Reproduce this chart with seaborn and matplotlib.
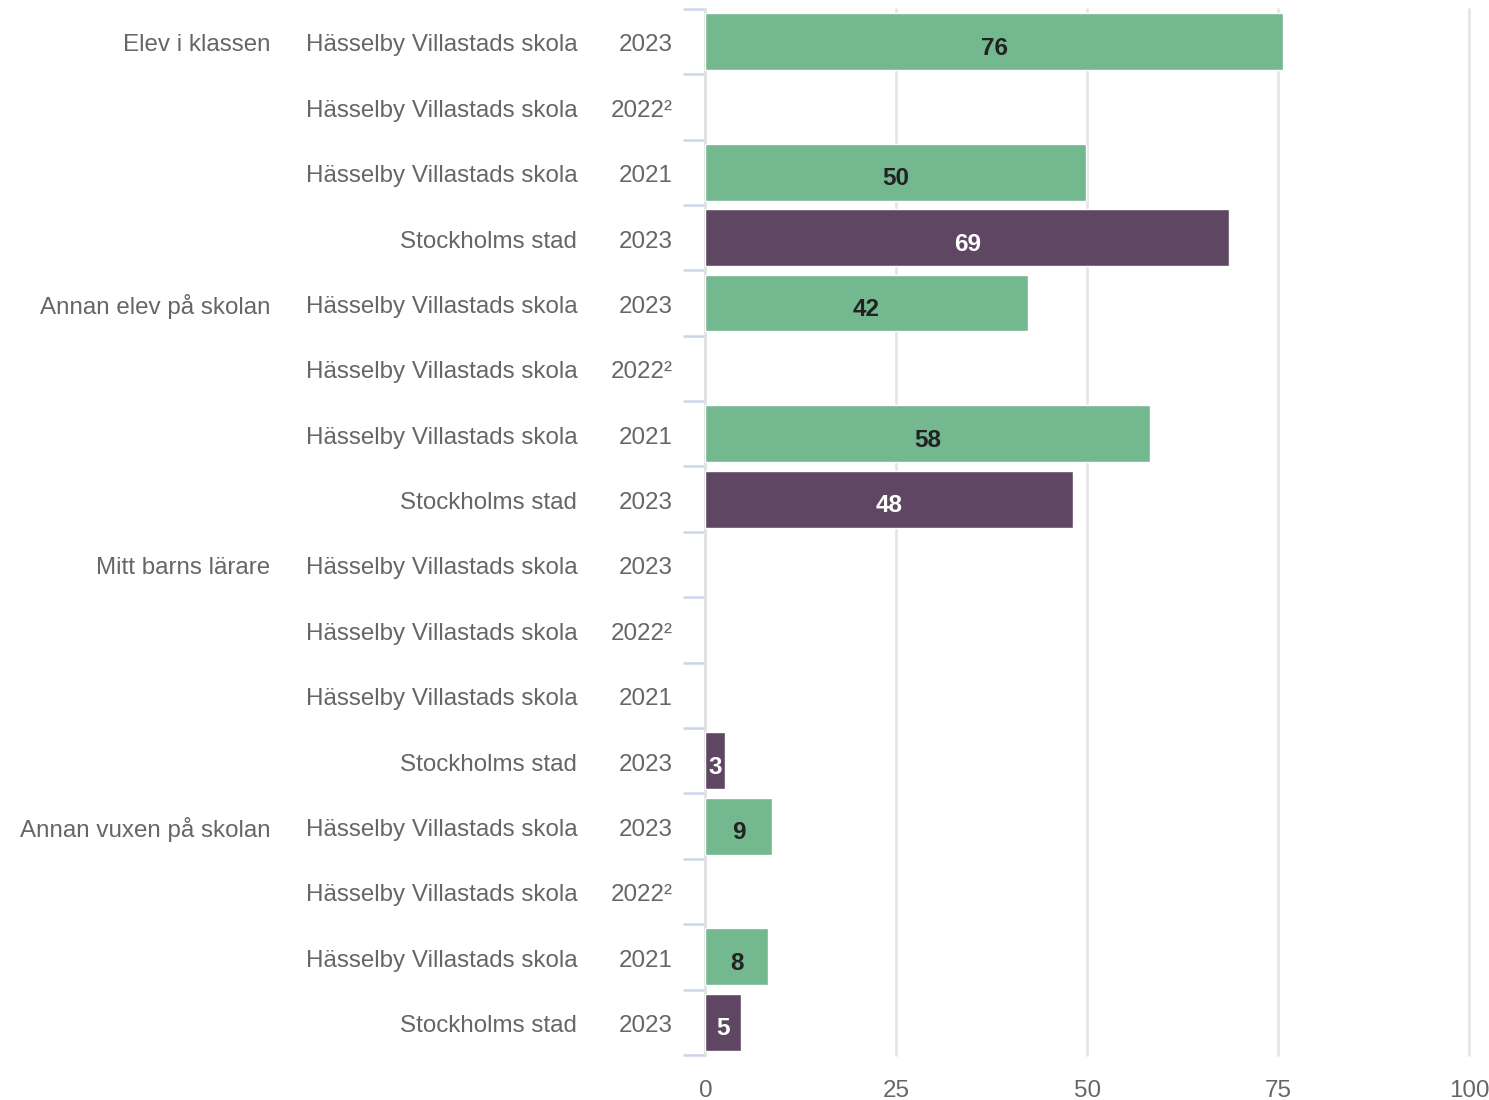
import matplotlib
matplotlib.use("Agg")
import matplotlib.pyplot as plt
import seaborn as sns
import numpy as np
import pandas as pd

# -------------------------
# Data
# -------------------------
groups = ["Elev i klassen", "Annan elev på skolan", "Mitt barns lärare", "Annan vuxen på skolan"]
units = ["Hässelby Villastads skola", "Hässelby Villastads skola", "Hässelby Villastads skola", "Stockholms stad"]
years = ["2023", "2022²", "2021", "2023"]

elev_i_klassen = [75.6, np.nan, 49.8, 68.6]
annan_elev = [42.2, np.nan, 58.2, 48.1]
mitt_barns_larare = [np.nan, np.nan, np.nan, 2.6]
annan_vuxen = [8.7, np.nan, 8.2, 4.7]

x_ticks = [0, 25, 50, 75, 100]

GREEN = "#74b88f"
PURPLE = "#5f4663"
TEXT = "#666666"

# -------------------------
# Long table
# -------------------------
rows = []
for g, vals in zip(groups, [elev_i_klassen, annan_elev, mitt_barns_larare, annan_vuxen]):
    for u, y, v in zip(units, years, vals):
        rows.append({"group": g, "unit": u, "year": y, "value": v})
df = pd.DataFrame(rows)
df["row"] = [f"r{i}" for i in range(len(df))]
order = list(df["row"])

# -------------------------
# Plot
# -------------------------
sns.set_theme(style="white")
plt.rcParams["font.family"] = ["Liberation Sans", "DejaVu Sans"]

fig = plt.figure(figsize=(14.89, 11), dpi=100)
ax = fig.add_axes([0.4737, 0.041, 0.5131, 0.951])

sns.barplot(
    data=df, x="value", y="row", hue="unit", order=order,
    palette={"Hässelby Villastads skola": GREEN, "Stockholms stad": PURPLE},
    dodge=False, width=0.87, orient="h", legend=False, saturation=1,
    edgecolor="white", linewidth=1, ax=ax, zorder=3,
)

ax.set_xlim(0, 100)
ax.set_ylim(len(order) - 0.5, -0.5)
ax.set_xticks(x_ticks)
ax.set_xticklabels([str(t) for t in x_ticks], fontsize=17.4, color=TEXT)
ax.tick_params(axis="x", length=0, pad=18)
ax.set_xlabel("")
ax.set_ylabel("")

# gridlines
for t in x_ticks[1:]:
    ax.axvline(t, color="#e6e6e6", lw=2, zorder=1, clip_on=False)

# spines
for s in ["top", "right", "bottom"]:
    ax.spines[s].set_visible(False)
ax.spines["left"].set_color("#e0e0e0")
ax.spines["left"].set_linewidth(2)

# y ticks at category boundaries
ax.set_yticks([])
ax.set_yticks(np.arange(-0.5, len(order), 1.0), minor=True)
ax.tick_params(axis="y", which="minor", left=True, length=16, width=1.8,
               color="#ccd6eb", direction="out")
ax.tick_params(axis="y", which="major", length=0)
ax.set_yticklabels([], minor=True)

# left label columns
trans = ax.get_yaxis_transform()
for i, r in df.iterrows():
    yy = i + 0.06
    if r["year"] == years[0] and r["unit"] == units[0]:
        ax.text(-0.569, yy, r["group"], transform=trans, ha="right", va="center",
                fontsize=17.4, color=TEXT)
    ax.text(-0.1675, yy, r["unit"], transform=trans, ha="right", va="center",
            fontsize=17.4, color=TEXT)
    ax.text(-0.043, yy, r["year"], transform=trans, ha="right", va="center",
            fontsize=17.4, color=TEXT)

# bar value labels
for i, r in df.iterrows():
    v = r["value"]
    if np.isnan(v):
        continue
    col = "white" if r["unit"] == "Stockholms stad" else "#222222"
    ax.text(v / 2, i + 0.1, f"{v:.0f}", ha="center", va="center",
            fontsize=17.5, fontweight="bold", color=col, zorder=5)

fig.savefig("out.png", dpi=100)
